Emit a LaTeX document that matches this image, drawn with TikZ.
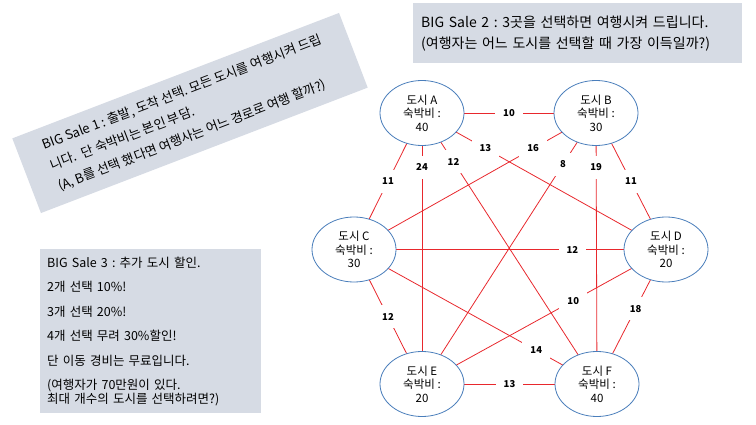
\documentclass[tikz,border=0pt]{standalone}
\usepackage{fontspec}
\setmainfont{Noto Sans CJK KR}
\usepackage{tikz}
\usetikzlibrary{shapes.geometric, positioning}
\usepackage{xcolor}
\definecolor{salefill}{RGB}{214,219,228}
\definecolor{cityline}{RGB}{74,126,187}
\definecolor{edgered}{RGB}{232,40,45}
\pgfdeclarelayer{background}
\pgfsetlayers{background,main}
\frenchspacing

\begin{document}
\begin{tikzpicture}[x=1pt, y=1pt]
% Define styles
\tikzstyle{city}=[ellipse, draw=cityline, fill=white, thick, minimum width=84pt, minimum height=65pt, inner sep=0pt, align=center, font=\fontsize{11.5}{13.5}\selectfont]
\tikzstyle{sale} = [rectangle, fill=salefill, align=left]
\tikzstyle{edge} = [edgered, line width=0.8pt]
\tikzstyle{cost} = [rectangle, fill=white, text=black, inner sep=8pt, font=\fontsize{9.5}{10}\selectfont\bfseries]
\useasboundingbox (0,0) rectangle (756,424);
% Place nodes
\node[sale, rotate=21, minimum width=350pt, minimum height=80pt, font=\fontsize{13}{22}\selectfont] (sale1) at (190,311)
  {BIG Sale 1 : 출발, 도착 선택. 모든 도시를 여행시켜 드립\\니다.~ 단 숙박비는 본인 부담.\\(A, B를 선택 했다면 여행사는 어느 경로로 여행 할까?)};
\node[sale, anchor=north west, text width=313pt, minimum height=60pt, inner xsep=8pt, font=\fontsize{14}{21}\selectfont] (sale2) at (413,421)
  {BIG Sale 2 : 3곳을 선택하면 여행시켜 드립니다.\\(여행자는 어느 도시를 선택할 때 가장 이득일까?)};
\node[sale, anchor=north west, text width=207pt, minimum height=164pt, inner xsep=7pt, font=\fontsize{12.5}{13.5}\selectfont] (sale3) at (40,175)
  {BIG Sale 3 : 추가 도시 할인.\\[11pt]2개 선택 10\%!\\[11pt]3개 선택 20\%!\\[11pt]4개 선택 무려 30\%할인!\\[11pt]단 이동 경비는 무료입니다.\\[11pt](여행자가 70만원이 있다.\\최대 개수의 도시를 선택하려면?)};
\node[city] (A) at (422,311) {도시 A\\숙박비 :\\40};
\node[city] (B) at (596,311) {도시 B\\숙박비 :\\30};
\node[city] (C) at (354,174.5) {도시 C\\숙박비 :\\30};
\node[city] (D) at (666,174.5) {도시 D\\숙박비 :\\20};
\node[city] (E) at (422,40) {도시 E\\숙박비 :\\20};
\node[city] (F) at (597,40) {도시 F\\숙박비 :\\40};
% Draw edges
\begin{pgfonlayer}{background}
\draw[edge] (A.center) -- node[cost] {10} (B.center);
\draw[edge] (A.center) -- node[cost] {11} (C.center);
\draw[edge] (A.center) -- node[cost, pos=0.26] {13} (D.center);
\draw[edge] (A.center) -- node[cost, pos=0.2] {24} (E.center);
\draw[edge] (A.center) -- node[cost, pos=0.18] {12} (F.center);
\draw[edge] (B.center) -- node[cost, pos=0.26] {16} (C.center);
\draw[edge] (B.center) -- node[cost] {11} (D.center);
\draw[edge] (B.center) -- node[cost, pos=0.19] {8} (E.center);
\draw[edge] (B.center) -- node[cost, pos=0.2] {19} (F.center);
\draw[edge] (C.center) -- node[cost, pos=0.7] {12} (D.center);
\draw[edge] (C.center) -- node[cost] {12} (E.center);
\draw[edge] (C.center) -- node[cost, pos=0.75] {14} (F.center);
\draw[edge] (D.center) -- node[cost, pos=0.38] {10} (E.center);
\draw[edge] (D.center) -- node[cost, pos=0.44] {18} (F.center);
\draw[edge] (E.center) -- node[cost] {13} (F.center);
\end{pgfonlayer}
\end{tikzpicture}
\end{document}
